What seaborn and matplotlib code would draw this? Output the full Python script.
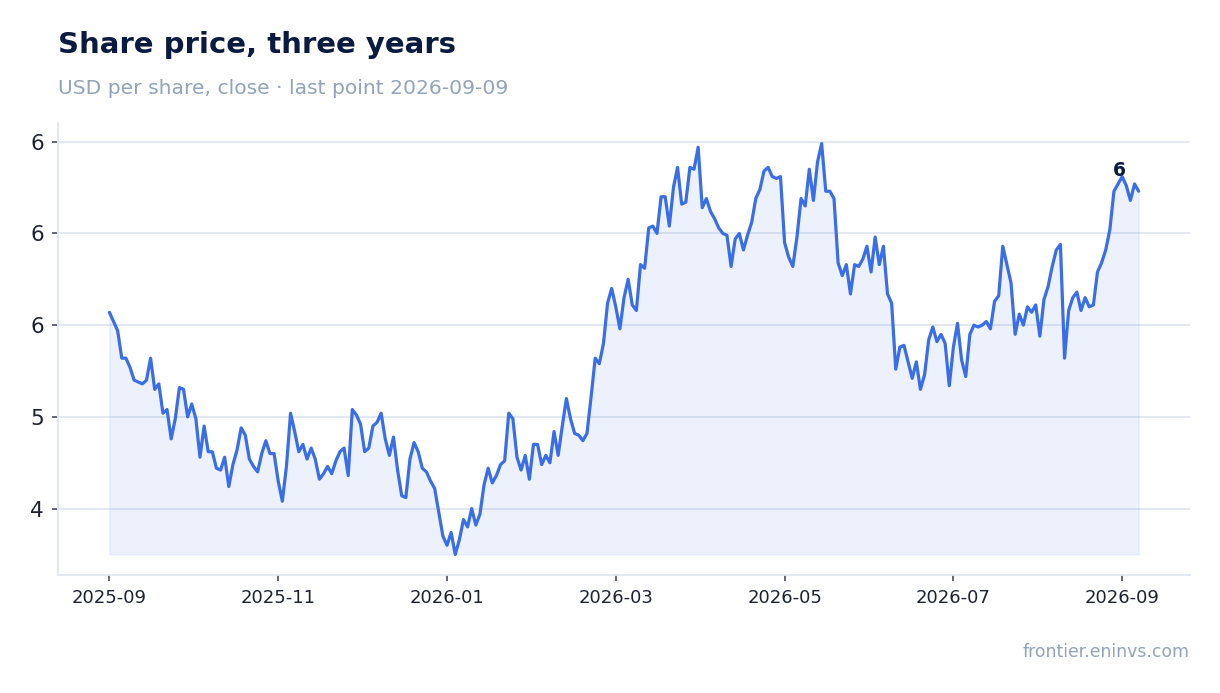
import pandas as pd
import numpy as np
import matplotlib
matplotlib.use("Agg")
import matplotlib.pyplot as plt
from matplotlib.ticker import FuncFormatter, MultipleLocator
import seaborn as sns

# closing prices, from 2025-09 to the last point
close = [
    5.57, 5.52, 5.47, 5.32, 5.32, 5.27, 5.20, 5.19, 5.18, 5.20,
    5.32, 5.15, 5.18, 5.02, 5.04, 4.88, 4.99, 5.16, 5.15, 5.00,
    5.07, 4.99, 4.78, 4.95, 4.81, 4.81, 4.72, 4.71, 4.78, 4.62,
    4.74, 4.82, 4.94, 4.90, 4.77, 4.73, 4.70, 4.80, 4.87, 4.80,
    4.80, 4.65, 4.54, 4.73, 5.02, 4.92, 4.81, 4.85, 4.77, 4.83,
    4.77, 4.66, 4.69, 4.73, 4.69, 4.76, 4.81, 4.83, 4.68, 5.04,
    5.01, 4.96, 4.81, 4.83, 4.95, 4.97, 5.02, 4.88, 4.79, 4.89,
    4.71, 4.57, 4.56, 4.77, 4.86, 4.81, 4.72, 4.70, 4.65, 4.61,
    4.48, 4.35, 4.30, 4.37, 4.25, 4.33, 4.44, 4.40, 4.50, 4.41,
    4.47, 4.63, 4.72, 4.64, 4.68, 4.74, 4.76, 5.02, 4.99, 4.78,
    4.71, 4.79, 4.66, 4.85, 4.85, 4.74, 4.79, 4.75, 4.92, 4.79,
    4.95, 5.10, 4.99, 4.91, 4.90, 4.87, 4.91, 5.11, 5.32, 5.29,
    5.40, 5.62, 5.70, 5.60, 5.48, 5.65, 5.75, 5.61, 5.58, 5.83,
    5.81, 6.03, 6.04, 6.00, 6.20, 6.20, 6.04, 6.25, 6.36, 6.16,
    6.17, 6.36, 6.35, 6.47, 6.14, 6.19, 6.12, 6.08, 6.03, 6.00,
    5.99, 5.82, 5.97, 6.00, 5.91, 5.99, 6.06, 6.19, 6.24, 6.34,
    6.36, 6.31, 6.30, 6.31, 5.95, 5.87, 5.82, 5.98, 6.19, 6.15,
    6.35, 6.18, 6.39, 6.49, 6.23, 6.23, 6.19, 5.84, 5.77, 5.83,
    5.67, 5.83, 5.82, 5.86, 5.93, 5.79, 5.98, 5.83, 5.93, 5.67,
    5.62, 5.26, 5.38, 5.39, 5.30, 5.21, 5.30, 5.15, 5.23, 5.42,
    5.49, 5.41, 5.45, 5.40, 5.17, 5.38, 5.51, 5.31, 5.22, 5.45,
    5.50, 5.49, 5.50, 5.52, 5.48, 5.63, 5.66, 5.93, 5.83, 5.73,
    5.45, 5.56, 5.50, 5.60, 5.57, 5.61, 5.44, 5.64, 5.71, 5.82,
    5.91, 5.94, 5.32, 5.58, 5.65, 5.68, 5.58, 5.65, 5.60, 5.61,
    5.79, 5.84, 5.91, 6.02, 6.23, 6.27, 6.31, 6.26, 6.18, 6.27,
    6.23,
]

month_labels = ["2025-09", "2025-11", "2026-01", "2026-03",
                "2026-05", "2026-07", "2026-09"]
points_per_tick = 41

title = "Share price, three years"
subtitle = "USD per share, close \u00b7 last point 2026-09-09"
source = "frontier.eninvs.com"

line_color = "#3a6ee8"
navy = "#0b1a3f"
muted = "#94a3b8"
light = "#e2e7f0"

df = pd.DataFrame({"t": np.arange(len(close)), "close": close})

sns.set_style("white")
plt.rcParams["font.family"] = ["DejaVu Sans"]

fig = plt.figure(figsize=(12.2, 6.93), dpi=100)
ax = fig.add_axes([0.0475, 0.1703, 0.928, 0.6522])

ax.fill_between(df["t"], df["close"], df["close"].min(),
                color=line_color, alpha=0.09, zorder=1)
sns.lineplot(data=df, x="t", y="close", color=line_color,
             linewidth=2.3, ax=ax, zorder=3)

# label on the last point
last = df.iloc[-1]
ax.annotate(f"{last['close']:.0f}", xy=(last["t"], last["close"]),
            xytext=(-9, 11), textcoords="offset points",
            ha="right", va="baseline", fontsize=13.5, fontweight="bold",
            color=navy, zorder=4)

ax.yaxis.set_major_locator(MultipleLocator(0.5))
ax.yaxis.set_major_formatter(FuncFormatter(lambda v, p: f"{v:.0f}"))
ax.set_xticks(np.arange(len(month_labels)) * points_per_tick)
ax.set_xticklabels(month_labels)

ax.set_xlabel("")
ax.set_ylabel("")
ax.grid(axis="y", color=light, linewidth=1.3, zorder=0)
ax.grid(axis="x", visible=False)
ax.set_axisbelow(True)

for side in ["top", "right"]:
    ax.spines[side].set_visible(False)
for side in ["left", "bottom"]:
    ax.spines[side].set_color(light)
    ax.spines[side].set_linewidth(1.3)

ax.tick_params(axis="y", labelsize=15.5, colors="#3a3f4b", labelcolor="#1c2230",
               length=4, width=1.1, pad=6, left=True)
ax.tick_params(axis="x", labelsize=13, colors="#3a3f4b", labelcolor="#1c2230",
               length=4, width=1.1, pad=6, bottom=True)

fig.text(0.0475, 1 - 53 / 693, title, fontsize=21, fontweight="bold",
         color=navy, va="baseline", ha="left")
fig.text(0.0475, 1 - 94.5 / 693, subtitle, fontsize=14.6,
         color=muted, va="baseline", ha="left")
fig.text(1190 / 1220, 1 - 657 / 693, source, fontsize=12.4,
         color=muted, va="baseline", ha="right")

fig.savefig("out.png", dpi=100)
